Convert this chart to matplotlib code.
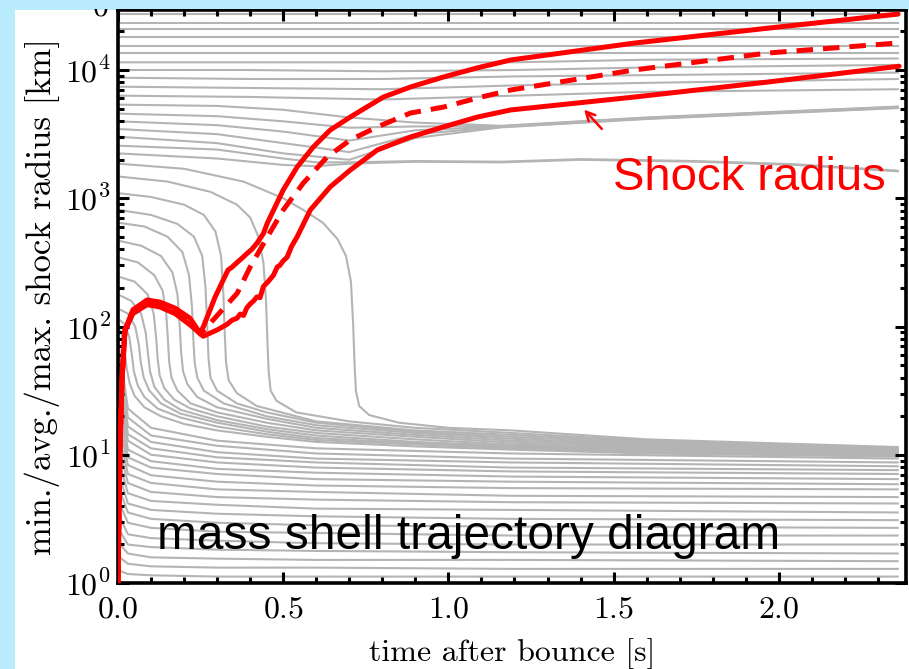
import numpy as np
import matplotlib.pyplot as plt
from matplotlib.patches import Rectangle
from matplotlib.ticker import MultipleLocator, LogLocator, NullFormatter, FuncFormatter

plt.rcParams["mathtext.fontset"] = "cm"
plt.rcParams["font.family"] = ["Liberation Sans", "DejaVu Sans"]

# ---- shock radius (km) ----
max_t = [0, 0.006, 0.012, 0.021, 0.045, 0.088, 0.127, 0.173, 0.218, 0.248, 0.258, 0.294, 0.333,
         0.345, 0.36, 0.379, 0.39, 0.405, 0.421, 0.44, 0.452, 0.5, 0.542, 0.591, 0.642, 0.703,
         0.803, 0.885, 0.985, 1.088, 1.188, 1.561, 1.967, 2.361]
max_r = [1, 11, 38, 94, 135, 161, 155, 139, 116, 89, 99, 170, 276, 290, 315, 348, 370, 400, 448,
         530, 641, 1160, 1750, 2510, 3400, 4300, 6150, 7370, 8820, 10400, 11970, 16200, 21200, 27300]

min_t = [0, 0.006, 0.012, 0.021, 0.045, 0.088, 0.127, 0.173, 0.218, 0.258, 0.30, 0.33, 0.345,
         0.36, 0.37, 0.38, 0.39, 0.40, 0.41, 0.42, 0.43, 0.44, 0.455, 0.47, 0.482, 0.49, 0.50,
         0.512, 0.525, 0.542, 0.582, 0.642, 0.703, 0.785, 0.885, 0.985, 1.088, 1.188, 1.561,
         1.967, 2.364]
min_r = [1, 11, 38, 92, 126, 148, 142, 126, 103, 84, 94, 104, 112, 116, 125, 122, 140, 150, 158,
         170, 168, 205, 225, 250, 291, 300, 325, 348, 420, 499, 810, 1225, 1660, 2380, 3000, 3600,
         4300, 4880, 6150, 8060, 10700]

avg_t = [0, 0.006, 0.012, 0.021, 0.045, 0.088, 0.127, 0.173, 0.218, 0.25, 0.279, 0.361, 0.4, 0.452,
         0.5, 0.561, 0.633, 0.703, 0.785, 0.885, 0.985, 1.088, 1.188, 1.561, 1.967, 2.361]
avg_r = [1, 11, 38, 93, 131, 155, 149, 132, 109, 87, 106, 182, 291, 499, 810, 1315, 2100, 2850,
         3600, 4620, 5140, 6050, 6980, 10000, 13570, 16250]

# ---- mass shells, log10(radius / km) ----
t_end = 2.36
top_logr = [4.44, 4.37, 4.32, 4.26, 4.19, 4.13]

upper_t = [0, 0.4, 0.8, 1.2, 1.6, 2.36]
upper_logr = [
    [4.06, 4.06, 4.06, 4.06, 4.08, 4.09],
    [4.00, 4.00, 3.99, 4.00, 4.02, 4.04],
    [3.94, 3.93, 3.93, 3.95, 3.96, 3.98],
    [3.87, 3.86, 3.85, 3.88, 3.90, 3.93],
    [3.80, 3.79, 3.77, 3.80, 3.83, 3.85],
]

shocked_t = [0, 0.3, 0.5, 0.7, 0.9, 1.16, 1.6, 2.36]
shocked_logr = [
    [3.73, 3.72, 3.69, 3.63, 3.59, 3.565, 3.63, 3.715],
    [3.66, 3.64, 3.60, 3.55, 3.56, 3.562, 3.627, 3.712],
    [3.60, 3.57, 3.52, 3.45, 3.53, 3.559, 3.624, 3.709],
    [3.54, 3.50, 3.43, 3.36, 3.50, 3.556, 3.621, 3.706],
    [3.48, 3.43, 3.35, 3.30, 3.47, 3.553, 3.618, 3.703],
]

stalled_t = [0, 0.3, 0.5, 0.6, 0.7, 0.9, 1.16, 1.4, 1.75, 2.05, 2.36]
stalled_logr = [
    [3.41, 3.38, 3.31, 3.28, 3.28, 3.29, 3.285, 3.305, 3.29, 3.265, 3.215],
    [3.35, 3.31, 3.26, 3.25, 3.27, 3.285, 3.28, 3.30, 3.285, 3.26, 3.21],
]

faller_t = [
    [0, 0.2, 0.38, 0.5, 0.56, 0.62, 0.665, 0.69, 0.705, 0.712, 0.716, 0.72, 0.73, 0.76, 0.85, 1.0, 1.19, 1.6, 2.36],
    [0, 0.15, 0.28, 0.36, 0.40, 0.425, 0.44, 0.448, 0.452, 0.456, 0.462, 0.48, 0.54, 0.7, 0.9, 1.19, 1.6, 2.36],
    [0, 0.1, 0.2, 0.26, 0.295, 0.312, 0.319, 0.323, 0.327, 0.335, 0.36, 0.42, 0.6, 0.9, 1.19, 1.6, 2.36],
    [0, 0.1, 0.18, 0.23, 0.255, 0.265, 0.27, 0.274, 0.28, 0.3, 0.36, 0.45, 0.6, 0.9, 1.19, 1.6, 2.36],
    [0, 0.08, 0.15, 0.195, 0.215, 0.224, 0.228, 0.232, 0.24, 0.26, 0.32, 0.45, 0.6, 0.9, 1.19, 1.6, 2.36],
    [0, 0.07, 0.13, 0.165, 0.18, 0.187, 0.191, 0.197, 0.21, 0.24, 0.3, 0.45, 0.6, 0.9, 1.19, 1.6, 2.36],
    [0, 0.06, 0.11, 0.135, 0.146, 0.151, 0.155, 0.162, 0.18, 0.22, 0.3, 0.45, 0.6, 0.9, 1.19, 1.6, 2.36],
    [0, 0.05, 0.09, 0.108, 0.116, 0.12, 0.126, 0.14, 0.17, 0.22, 0.3, 0.45, 0.6, 0.9, 1.19, 1.6, 2.36],
    [0, 0.04, 0.07, 0.084, 0.091, 0.097, 0.11, 0.14, 0.19, 0.3, 0.45, 0.6, 0.9, 1.19, 1.6, 2.36],
    [0, 0.03, 0.052, 0.063, 0.069, 0.078, 0.095, 0.13, 0.19, 0.3, 0.45, 0.6, 0.9, 1.19, 1.6, 2.36],
    [0, 0.02, 0.034, 0.042, 0.048, 0.06, 0.08, 0.12, 0.19, 0.3, 0.45, 0.6, 0.9, 1.19, 1.6, 2.36],
    [0, 0.012, 0.02, 0.026, 0.035, 0.05, 0.08, 0.13, 0.2, 0.3, 0.45, 0.6, 0.9, 1.19, 1.6, 2.36],
]
faller_logr = [
    [3.27, 3.23, 3.13, 3.0, 2.91, 2.81, 2.68, 2.55, 2.35, 2.0, 1.7, 1.5, 1.38, 1.31, 1.25, 1.21, 1.19, 1.12, 1.06],
    [3.17, 3.13, 3.05, 2.95, 2.85, 2.7, 2.5, 2.2, 1.9, 1.65, 1.5, 1.42, 1.33, 1.26, 1.21, 1.17, 1.11, 1.05],
    [3.04, 3.01, 2.95, 2.87, 2.74, 2.55, 2.25, 1.95, 1.72, 1.58, 1.48, 1.38, 1.26, 1.19, 1.155, 1.10, 1.04],
    [2.91, 2.87, 2.8, 2.7, 2.55, 2.3, 2.0, 1.75, 1.6, 1.5, 1.4, 1.33, 1.25, 1.18, 1.14, 1.09, 1.035],
    [2.81, 2.78, 2.7, 2.58, 2.4, 2.15, 1.9, 1.72, 1.6, 1.5, 1.4, 1.3, 1.23, 1.17, 1.125, 1.08, 1.03],
    [2.67, 2.63, 2.55, 2.42, 2.25, 2.0, 1.8, 1.65, 1.55, 1.45, 1.37, 1.28, 1.21, 1.155, 1.11, 1.07, 1.02],
    [2.54, 2.5, 2.4, 2.28, 2.1, 1.9, 1.72, 1.6, 1.5, 1.4, 1.33, 1.25, 1.19, 1.14, 1.095, 1.06, 1.015],
    [2.39, 2.35, 2.25, 2.1, 1.9, 1.75, 1.62, 1.52, 1.43, 1.36, 1.3, 1.22, 1.17, 1.12, 1.08, 1.05, 1.01],
    [2.25, 2.2, 2.1, 1.95, 1.78, 1.65, 1.53, 1.43, 1.35, 1.27, 1.2, 1.15, 1.1, 1.07, 1.04, 1.0],
    [2.14, 2.1, 2.0, 1.86, 1.72, 1.6, 1.5, 1.4, 1.32, 1.25, 1.18, 1.13, 1.09, 1.06, 1.03, 0.995],
    [2.06, 2.02, 1.92, 1.78, 1.65, 1.54, 1.45, 1.36, 1.29, 1.22, 1.16, 1.115, 1.08, 1.05, 1.02, 0.99],
    [2.0, 1.93, 1.82, 1.68, 1.56, 1.46, 1.37, 1.3, 1.24, 1.19, 1.14, 1.1, 1.065, 1.04, 1.01, 0.985],
]

inner_t = [0, 0.03, 0.1, 0.3, 0.6, 1.19, 2.36]
inner_logr = [
    [0.10, 0.07, 0.06, 0.05, 0.05, 0.05, 0.05],
    [0.21, 0.15, 0.13, 0.12, 0.12, 0.11, 0.11],
    [0.32, 0.23, 0.20, 0.19, 0.18, 0.18, 0.17],
    [0.43, 0.30, 0.28, 0.26, 0.25, 0.24, 0.23],
    [0.54, 0.38, 0.35, 0.33, 0.31, 0.30, 0.30],
    [0.65, 0.47, 0.43, 0.40, 0.39, 0.37, 0.37],
    [0.76, 0.55, 0.50, 0.47, 0.45, 0.44, 0.43],
    [0.87, 0.62, 0.57, 0.54, 0.52, 0.50, 0.49],
    [0.97, 0.70, 0.64, 0.61, 0.58, 0.57, 0.55],
    [1.08, 0.78, 0.71, 0.67, 0.65, 0.63, 0.62],
    [1.19, 0.85, 0.78, 0.73, 0.71, 0.68, 0.67],
    [1.30, 0.92, 0.84, 0.79, 0.76, 0.74, 0.73],
    [1.41, 0.98, 0.90, 0.85, 0.81, 0.79, 0.77],
    [1.50, 1.04, 0.95, 0.89, 0.86, 0.83, 0.81],
    [1.60, 1.11, 1.00, 0.94, 0.90, 0.87, 0.85],
    [1.69, 1.16, 1.05, 0.98, 0.94, 0.90, 0.88],
    [1.76, 1.22, 1.10, 1.02, 0.97, 0.94, 0.91],
    [1.83, 1.29, 1.15, 1.07, 1.01, 0.97, 0.94],
    [1.90, 1.36, 1.21, 1.11, 1.05, 1.01, 0.97],
]

blue = "#b9ecfd"
gray = "#b4b4b4"

fig = plt.figure(figsize=(9.09, 6.69), dpi=100)
fig.patch.set_facecolor(blue)
fig.add_artist(Rectangle((15 / 909, 0), 1, 659 / 669, transform=fig.transFigure,
                         facecolor="white", edgecolor="none", zorder=-1))
ax = fig.add_axes([118 / 909, 86 / 669, 788 / 909, 573 / 669])

shell_kw = dict(color=gray, lw=1.5, zorder=1)
for lr in top_logr:
    ax.plot([0, t_end], [10 ** lr, 10 ** lr], **shell_kw)
for group_t, group in [(upper_t, upper_logr), (shocked_t, shocked_logr),
                       (stalled_t, stalled_logr), (inner_t, inner_logr)]:
    for lr in group:
        ax.plot(group_t, 10 ** np.array(lr), **shell_kw)
for tt, lr in zip(faller_t, faller_logr):
    ax.plot(tt, 10 ** np.array(lr), **shell_kw)

red_kw = dict(color="red", lw=3.6, zorder=3, solid_joinstyle="round", solid_capstyle="round")
ax.plot(max_t, max_r, **red_kw)
ax.plot(min_t, min_r, **red_kw)
ax.plot(avg_t, avg_r, color="red", lw=3.6, ls=(0, (3.3, 2.0)), zorder=3)

ax.set_yscale("log")
ax.set_xlim(0, 2.385)
ax.set_ylim(1, 10 ** 4.468)

ax.xaxis.set_major_locator(MultipleLocator(0.5))
ax.xaxis.set_minor_locator(MultipleLocator(0.1))
ax.xaxis.set_major_formatter(FuncFormatter(lambda v, p: r"$%.1f$" % v))
ax.yaxis.set_major_locator(LogLocator(base=10))
ax.yaxis.set_minor_locator(LogLocator(base=10, subs=np.arange(2, 10)))
ax.yaxis.set_major_formatter(FuncFormatter(lambda v, p: r"$10^{%d}$" % round(np.log10(v))))
ax.yaxis.set_minor_formatter(NullFormatter())
ax.tick_params(which="both", direction="in", top=True, right=True, width=2.2, labelsize=23)
ax.tick_params(axis="x", pad=8)
ax.tick_params(axis="y", pad=5)
ax.tick_params(which="major", length=8)
ax.tick_params(which="minor", length=4)
for s in ax.spines.values():
    s.set_linewidth(2.6)

ax.set_xlabel("time after bounce [s]", family="cmr10", fontsize=23, labelpad=10)
ax.set_ylabel("min./avg./max. shock radius [km]", family="cmr10", fontsize=25, labelpad=4)

ax.text(0.049, 0.059, "mass shell trajectory diagram", transform=ax.transAxes,
        fontsize=34.5, va="baseline", zorder=5)
ax.text(0.628, 0.686, "Shock radius", transform=ax.transAxes, color="red",
        fontsize=34, va="baseline", zorder=5)
ax.annotate("", xy=(1.405, 5100), xytext=(1.47, 3350),
            arrowprops=dict(arrowstyle="->", color="red", lw=1.8, mutation_scale=16))

fig.text(100 / 909, 1 - 15 / 669, r"$0$", fontsize=23, ha="center", va="baseline")
fig.add_artist(Rectangle((0, 1 - 9 / 669), 1, 9 / 669, transform=fig.transFigure,
                         facecolor=blue, edgecolor="none", zorder=10))

fig.savefig("out.png", dpi=100, facecolor=blue)
